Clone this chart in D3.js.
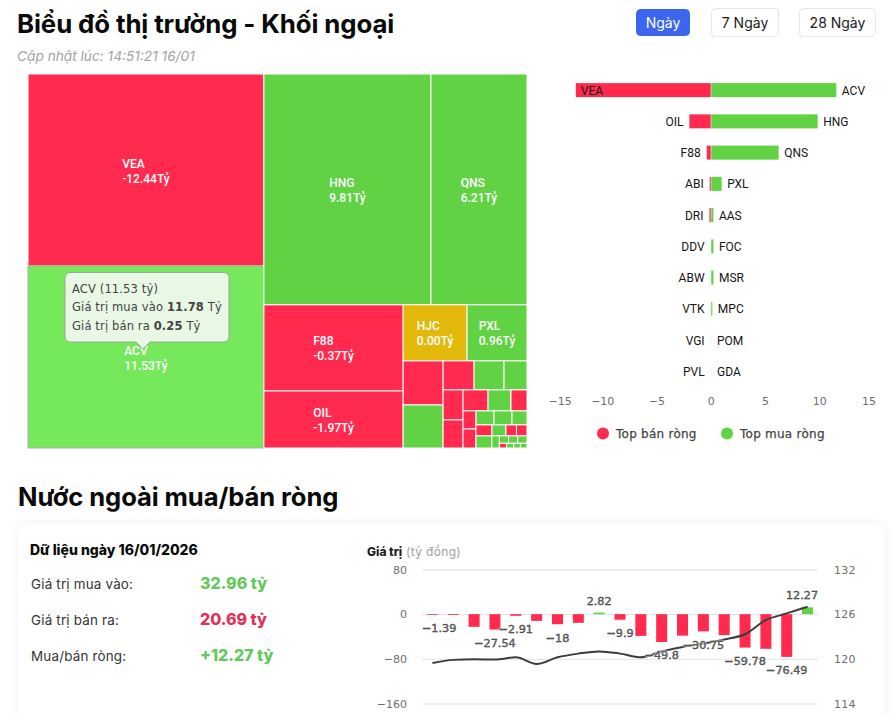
<!DOCTYPE html>
<html lang="vi">
<head>
<meta charset="utf-8">
<script src="https://cdn.jsdelivr.net/npm/d3@7"></script>
<style>
html,body{margin:0;padding:0;background:#fff;overflow:hidden}
svg{display:block}
text{font-family:Inter,"Noto Sans",sans-serif}
.ec{font-family:"DejaVu Sans",sans-serif}
.tm{font-family:Roboto,sans-serif;font-size:12px;font-weight:500;fill:#fff}
.domain{display:none}
</style>
</head>
<body>
<svg id="c" width="893" height="714"></svg>
<script>
// ---------- data ----------
const title = "Biểu đồ thị trường - Khối ngoại";
const updated = "Cập nhật lúc: 14:51:21 16/01";
const rangeButtons = ["Ngày", "7 Ngày", "28 Ngày"];

// treemap leaves: ticker, displayed net value, tile weight (null value = tile without a label)
const tmNames  = ["VEA","ACV","HNG","QNS","F88","OIL","HJC","PXL"];
const tmValues = [-12.44,11.53,9.81,6.21,-0.37,-1.97,0,0.96];
const tmWeights = [45312,42952,38577,22176,11997,7951,3584,3360];
// unlabelled small tiles, sign and weight
const smallSigns   = [-1,1, -1,1,1, -1,-1, -1,1,-1, -1,-1, 1,1,1, -1,1,-1,-1, 1,1, 1,1,1, -1,1,1,1];
const smallWeights = [1760,1720, 899,870,667, 600,560, 525,483,336, 234,247, 252,252,210, 176,154,116,116, 192,90, 68,68,68, 34,34,31,31];

// diverging bars
const sellNames = ["VEA","OIL","F88","ABI","DRI","DDV","ABW","VTK","VGI","PVL"];
const sellVals  = [-12.44,-1.97,-0.37,-0.1,-0.12,-0.02,-0.02,-0.02,-0.01,-0.01];
const buyNames  = ["ACV","HNG","QNS","PXL","AAS","FOC","MSR","MPC","POM","GDA"];
const buyVals   = [11.53,9.81,6.21,0.96,0.2,0.2,0.2,0.1,0.02,0.02];
const barTicks  = [-15,-10,-5,0,5,10,15];
const legendNames = ["Top bán ròng","Top mua ròng"];

// net flow chart
const netVals = [-1.39,-1.5,-22.7,-27.54,-2.91,-12,-18,-15.5,2.82,-9.9,-38.9,-49.8,-38.5,-30.75,-37.6,-59.78,-62,-76.49,12.27];
const netShown = [1,0,0,1,1,0,1,0,1,1,0,1,0,1,0,1,0,1,1];
const indexVals = [119.45,119.86,119.95,119.9,120.2,119.3,120.2,120.7,121,120.7,120.2,121,121.6,122.05,122.6,123.3,125.2,126.1,127];
const leftTicks = [80,0,-80,-160];
const rightTicks = [132,126,120,114];
const stats = [["Giá trị mua vào:","32.96 tỷ"],["Giá trị bán ra:","20.69 tỷ"],["Mua/bán ròng:","+12.27 tỷ"]];

const RED="#FF2A4E", GREEN="#60D243", GOLD="#E2B90A", ACVHI="#76E85B";
const svg=d3.select("#c");

// ---------- header ----------
svg.append("text").attr("x",17).attr("y",32.5).attr("font-size",25.8).attr("font-weight",700).attr("letter-spacing",-.1).attr("fill","#0a0a0a").text(title);
svg.append("text").attr("x",17).attr("y",61).attr("font-size",13.7).attr("font-style","italic").attr("fill","#a2a2a2").text(updated);

const btn=[[636,9,54,27],[711,8,68,29],[799,8,77,29]];
rangeButtons.forEach((t,i)=>{
  const b=btn[i], g=svg.append("g");
  g.append("rect").attr("x",b[0]+.5).attr("y",b[1]+.5).attr("width",b[2]-1).attr("height",b[3]-1).attr("rx",4)
    .attr("fill",i?"#fff":"#3C66EE").attr("stroke",i?"#e6e6e6":"#3C66EE");
  g.append("text").attr("x",b[0]+b[2]/2).attr("y",b[1]+b[3]/2+5).attr("text-anchor","middle").attr("font-size",14).attr("fill",i?"#1a1a1a":"#fff").text(t);
});

// ---------- treemap ----------
const leaf=(i)=>({name:tmNames[i],net:tmValues[i],value:tmWeights[i],sign:Math.sign(tmValues[i])});
const sm=(i)=>({name:"",value:smallWeights[i],sign:smallSigns[i]});
const grp=(...c)=>({children:c});
const wrap=(l)=>grp(l);
const root=grp(
  grp(leaf(0),leaf(1)),
  grp(
    grp(leaf(2),leaf(3)),
    grp(
      grp(leaf(4),leaf(5)),
      grp(
        grp(leaf(6),leaf(7)),
        grp(
          grp(sm(0),sm(1)),
          grp(
            grp(sm(2),sm(3),sm(4)),
            grp(
              grp(sm(5),sm(6)),
              grp(
                grp(sm(7),sm(8),sm(9)),
                grp(
                  grp(sm(10),sm(11)),
                  grp(
                    grp(sm(12),sm(13),sm(14)),
                    grp(sm(15),sm(16),sm(17),sm(18)),
                    grp(
                      wrap(sm(19)),
                      wrap(sm(20)),
                      grp(
                        grp(sm(21),sm(22),sm(23)),
                        grp(sm(24),sm(25),sm(26),sm(27))
                      )
                    )
                  )
                )
              )
            )
          )
        )
      )
    )
  )
);
const hier=d3.hierarchy(root).sum(d=>d.value||0);
d3.treemap().tile(d3.treemapSliceDice).size([499,374]).round(false)(hier);
const tm=svg.append("g").attr("transform","translate(28,74)");
const tmColor=d=>d.data.name==="ACV"?ACVHI:d.data.name==="HJC"?GOLD:d.data.sign<0?RED:GREEN;
tm.selectAll("rect").data(hier.leaves()).join("rect")
  .attr("x",d=>d.x0).attr("y",d=>d.y0).attr("width",d=>d.x1-d.x0).attr("height",d=>d.y1-d.y0)
  .attr("fill",tmColor).attr("stroke",d=>d.data.name==="ACV"?"#9db596":"#fff").attr("stroke-width",1);
hier.leaves().filter(d=>d.data.name).forEach(d=>{
  const cx=(d.x0+d.x1)/2, cy=(d.y0+d.y1)/2;
  const t=tm.append("text").attr("class","tm");
  const a=t.append("tspan").text(d.data.name).attr("y",cy-2.5);
  const v=(d.data.net<0?"-":"")+Math.abs(d.data.net).toFixed(2)+"Tỷ";
  const b=t.append("tspan").text(v).attr("y",cy+12.5);
  const w=Math.max(a.node().getComputedTextLength(),b.node().getComputedTextLength());
  a.attr("x",cx-w/2); b.attr("x",cx-w/2);
});

// tooltip
const tip=svg.append("g");
tip.append("path").attr("d","M70,272.5H224a5,5 0 0 1 5,5V337a5,5 0 0 1 -5,5H150L143,349L136,342H70a5,5 0 0 1 -5,-5V277.5a5,5 0 0 1 5,-5Z")
  .attr("fill","#E9F8E5").attr("stroke","#9aa897").attr("stroke-width",1);
[["ACV (11.53 tỷ)"],["Giá trị mua vào ","11.78"," Tỷ"],["Giá trị bán ra ","0.25"," Tỷ"]].forEach((l,i)=>{
  const t=tip.append("text").attr("class","ec").attr("x",72).attr("y",293+i*18.3).attr("font-size",11.5).attr("letter-spacing",.14).attr("fill","#444");
  l.forEach((s,j)=>t.append("tspan").attr("font-weight",j===1?700:400).text(s));
});

// ---------- diverging bars ----------
const bx=d3.scaleLinear().domain([-15,15]).range([548,873.5]);
const by=d3.scaleBand().domain(d3.range(sellNames.length)).range([74.5,387]);
const bh=14;
const bars=svg.append("g");
const ctr=i=>by(i)+by.bandwidth()/2;
bars.selectAll(".s").data(sellVals).join("rect").attr("class","s")
  .attr("x",d=>bx(d)).attr("y",(d,i)=>ctr(i)-bh/2).attr("width",d=>bx(0)-bx(d)).attr("height",bh)
  .attr("fill",(d,i)=>i<5?RED:"#d9dfe6");
bars.selectAll(".b").data(buyVals).join("rect").attr("class","b")
  .attr("x",bx(0)+.5).attr("y",(d,i)=>ctr(i)-bh/2).attr("width",d=>bx(d)-bx(0)).attr("height",bh)
  .attr("fill",(d,i)=>i<8?GREEN:"#d9dfe6");
const blab=svg.append("g").attr("font-size",12).attr("fill","#151515");
sellNames.forEach((n,i)=>{
  const t=blab.append("text").attr("y",ctr(i)+4.6).style("font-family","Roboto,sans-serif").text(n);
  const w=t.node().getComputedTextLength(), x0=bx(sellVals[i]);
  if(x0-6-w<548) t.attr("x",x0+5); else t.attr("x",x0-6).attr("text-anchor","end");
});
buyNames.forEach((n,i)=>{
  blab.append("text").attr("x",bx(buyVals[i])+6).attr("y",ctr(i)+4.6).style("font-family","Roboto,sans-serif").text(n);
});
const bAxis=svg.append("g").attr("transform","translate(0,396)")
  .call(d3.axisBottom(bx).tickValues(barTicks).tickSize(0).tickPadding(0).tickFormat(d=>String(d).replace("-","−")));
bAxis.selectAll("text").attr("class","ec").attr("font-size",11).attr("fill","#6e6e6e").attr("dy","9")
  .attr("dx",d=>d===15?2:0)
  .attr("text-anchor",d=>d===-15?"start":d===15?"end":"middle");
const lg=svg.append("g");
[[603,616,RED],[727,740,GREEN]].forEach((p,i)=>{
  lg.append("circle").attr("cx",p[0]).attr("cy",433.5).attr("r",6).attr("fill",p[2]);
  lg.append("text").attr("class","ec").attr("x",p[1]).attr("y",438).attr("font-size",12).attr("letter-spacing",.25)
    .attr("stroke","#444").attr("stroke-width",.25).attr("fill","#444").text(legendNames[i]);
});

// ---------- section 2 ----------
svg.append("text").attr("x",18).attr("y",506).attr("font-size",25.6).attr("font-weight",700).attr("letter-spacing",-.1).attr("fill","#0a0a0a").text("Nước ngoài mua/bán ròng");
const defs=svg.append("defs");
defs.append("filter").attr("id","sh").attr("x","-5%").attr("y","-10%").attr("width","110%").attr("height","120%")
  .html('<feDropShadow dx="0" dy="0" stdDeviation="4" flood-color="#9fb4d8" flood-opacity=".22"/>');
svg.append("rect").attr("x",18).attr("y",523).attr("width",867).attr("height",260).attr("rx",13).attr("fill","#fff").attr("filter","url(#sh)");
svg.append("text").attr("x",30).attr("y",555).attr("font-size",14).attr("font-weight",800).attr("fill","#0a0a0a").text("Dữ liệu ngày 16/01/2026");
const statCol=["#63C95A","#E2305A","#63C95A"];
stats.forEach((s,i)=>{
  const y=589+i*36;
  svg.append("text").attr("x",31).attr("y",y).attr("font-size",13.4).attr("letter-spacing",.2).attr("fill","#333").text(s[0]);
  svg.append("text").attr("x",200).attr("y",y).attr("font-size",16).attr("font-weight",800).attr("fill",statCol[i]).text(s[1]);
});

const t2=svg.append("text").attr("x",367).attr("y",556).attr("font-size",12);
t2.append("tspan").attr("font-weight",800).attr("fill","#222").text("Giá trị");
t2.append("tspan").attr("fill","#a0a0a0").attr("letter-spacing",.35).text(" (tỷ đồng)");

const nx=d3.scaleBand().domain(d3.range(netVals.length)).range([422,818]);
const ny=d3.scaleLinear().domain([-160,80]).range([703.5,569.5]);
const ry=d3.scaleLinear().domain([114,132]).range([703.5,569.5]);
const nc=i=>nx(i)+nx.bandwidth()/2;

const gl=svg.append("g").attr("transform","translate(422,0)")
  .call(d3.axisLeft(ny).tickValues(leftTicks).tickSize(-396).tickPadding(15).tickFormat(d=>String(d).replace("-","−")));
gl.selectAll("line").attr("stroke","#dfe1e4");
gl.selectAll("text").attr("class","ec").attr("font-size",11).attr("fill","#6e6e6e");
const gr=svg.append("g").attr("transform","translate(818,0)")
  .call(d3.axisRight(ry).tickValues(rightTicks).tickSize(0).tickPadding(16));
gr.selectAll("text").attr("class","ec").attr("font-size",11).attr("letter-spacing",.3).attr("fill","#6e6e6e");

svg.append("g").selectAll("rect").data(netVals).join("rect")
  .attr("x",(d,i)=>nc(i)-5.5).attr("width",11)
  .attr("y",d=>Math.min(ny(d),ny(0))).attr("height",d=>Math.abs(ny(d)-ny(0)))
  .attr("fill",d=>d<0?RED:GREEN);

const line=d3.line().x((d,i)=>nc(i)).y(d=>ry(d)).curve(d3.curveMonotoneX);
svg.append("path").attr("d",line(indexVals)).attr("fill","none").attr("stroke","#3c3c3c").attr("stroke-width",2);

const nl=svg.append("g");
netVals.forEach((d,i)=>{
  if(!netShown[i])return;
  const t=nl.append("text").attr("class","ec").attr("font-size",11.2).attr("fill","#141414")
    .attr("text-anchor","middle").attr("stroke","#141414").attr("stroke-width",.35)
    .style("text-shadow","0 0 2px #fff,0 0 2px #fff")
    .attr("y",d<0?ny(d)+17.5:ny(d)-8).text(String(d).replace("-","−"));
  const w=t.node().getComputedTextLength();
  t.attr("x",Math.max(422+w/2,Math.min(818-w/2,nc(i))));
});
</script>
</body>
</html>
